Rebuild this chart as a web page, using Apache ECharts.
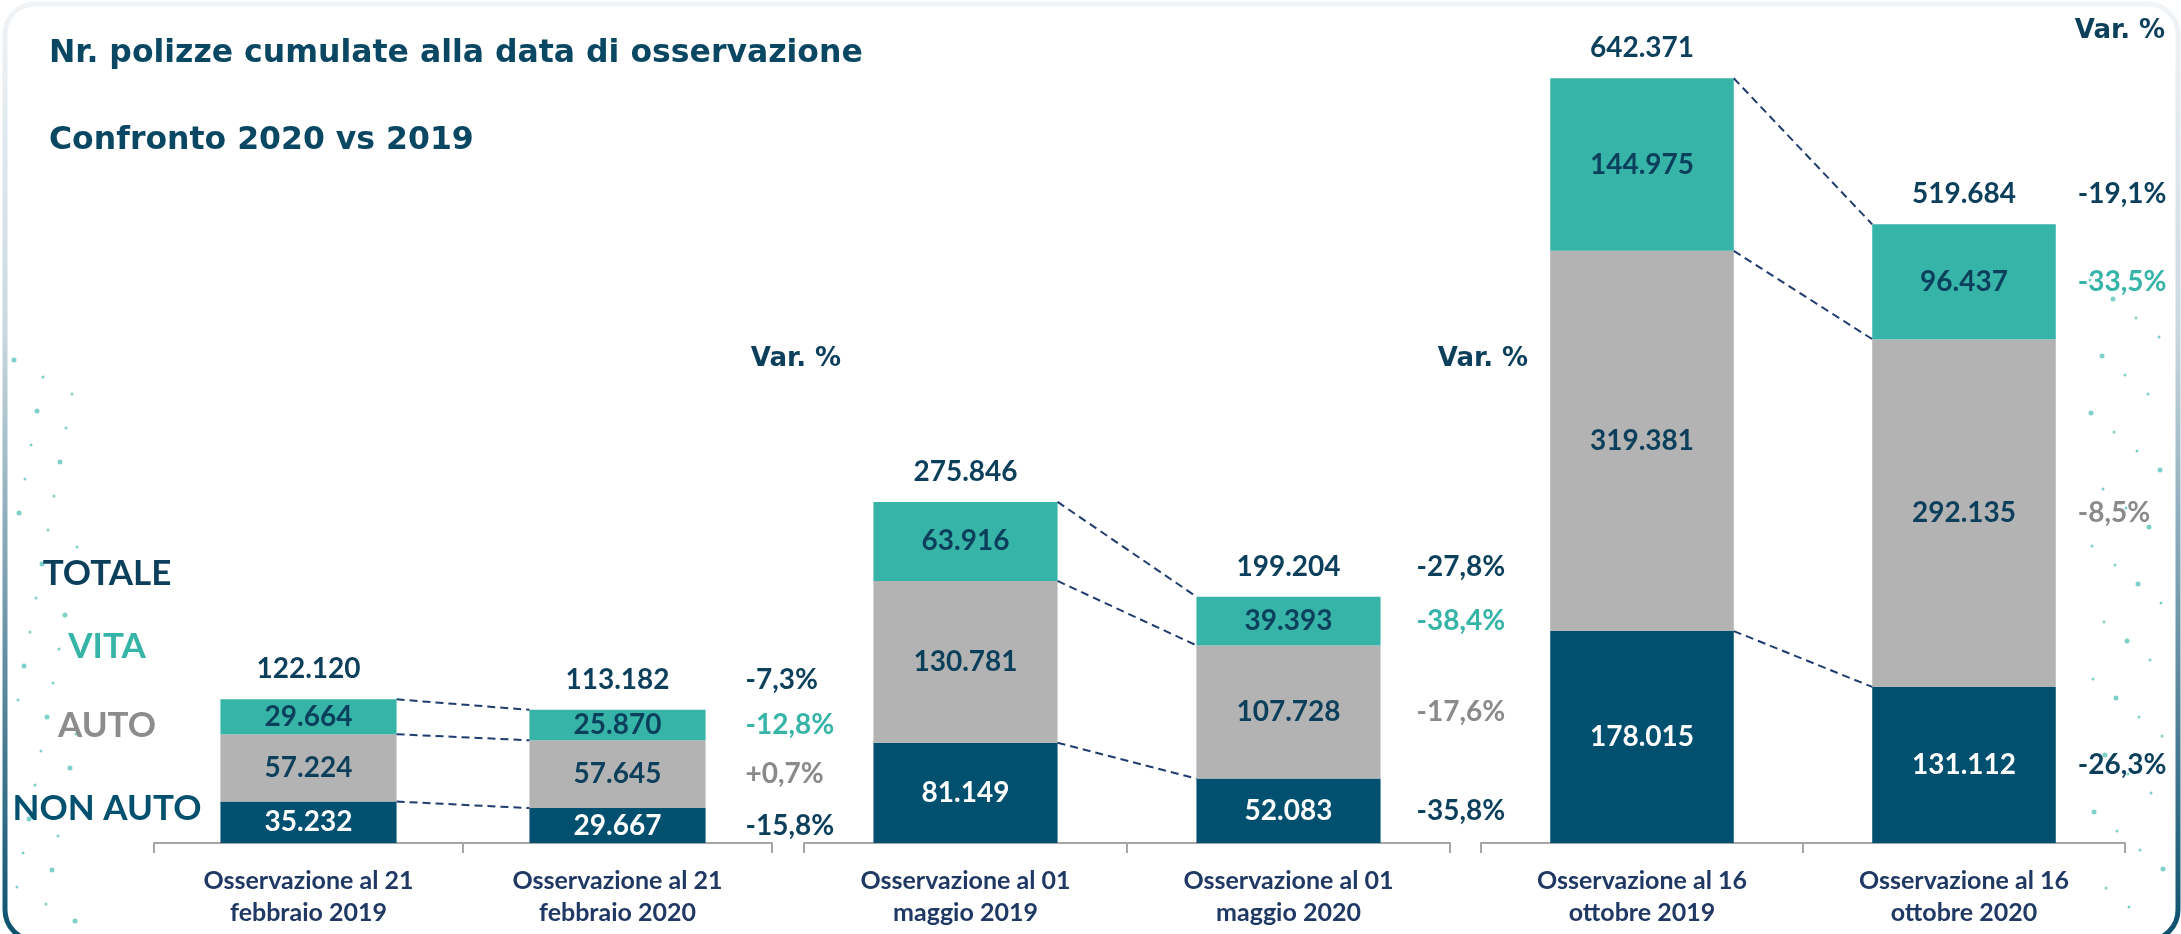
<!DOCTYPE html>
<html>
<head>
<meta charset="utf-8">
<script src="https://cdn.jsdelivr.net/npm/echarts@6/dist/echarts.min.js"></script>
<style>
html,body{margin:0;padding:0;background:#ffffff;}
#chart{width:2181px;height:934px;}
</style>
</head>
<body>
<div id="chart"></div>
<script>
// ---------------- DATA ----------------
const categories = [
  ['Osservazione al 21\nfebbraio 2019', 'Osservazione al 21\nfebbraio 2020'],
  ['Osservazione al 01\nmaggio 2019', 'Osservazione al 01\nmaggio 2020'],
  ['Osservazione al 16\nottobre 2019', 'Osservazione al 16\nottobre 2020']
];
const nonAuto = [[35232, 29667], [81149, 52083], [178015, 131112]];
const auto    = [[57224, 57645], [130781, 107728], [319381, 292135]];
const vita    = [[29664, 25870], [63916, 39393], [144975, 96437]];
const totale  = [[122120, 113182], [275846, 199204], [642371, 519684]];
const varTotale  = ['-7,3%', '-27,8%', '-19,1%'];
const varVita    = ['-12,8%', '-38,4%', '-33,5%'];
const varAuto    = ['+0,7%', '-17,6%', '-8,5%'];
const varNonAuto = ['-15,8%', '-35,8%', '-26,3%'];
const legendLabels = ['TOTALE', 'VITA', 'AUTO', 'NON AUTO'];
const titleText = 'Nr. polizze cumulate alla data di osservazione';
const subtitleText = 'Confronto 2020 vs 2019';
const varHeader = 'Var. %';

// ---------------- STYLE / LAYOUT ----------------
const C_DARK = '#02506f';
const C_GRAY = '#b2b3b2';
const C_TEAL = '#37b4a8';
const C_TEXT = '#0b3f5b';
const C_NAVY = '#1f3864';
const C_VARGRAY = '#8a8a8a';
const FONT = 'Lato, "Open Sans", sans-serif';
const WIDE = '"DejaVu Sans", Lato, sans-serif';
const grids = [
  {left: 154, width: 618, yMax: 680},
  {left: 804, width: 646, yMax: 647},
  {left: 1481, width: 644, yMax: 672}
];
const GRID_TOP = 43, GRID_BOTTOM = 91;
const BAR_FRAC = 0.57;
const varGap = [40, 36, 22];
const varHeaderPos = [[796, 359], [1483, 359], [2120, 31]];

function fmt(v) { return String(v).replace(/\B(?=(\d{3})+(?!\d))/g, '.'); }

const chart = echarts.init(document.getElementById('chart'), null, {renderer: 'canvas'});

const option = {
  backgroundColor: '#ffffff',
  animation: false,
  grid: [], xAxis: [], yAxis: [], series: [], graphic: []
};

grids.forEach((g, gi) => {
  option.grid.push({left: g.left, width: g.width, top: GRID_TOP, bottom: GRID_BOTTOM, containLabel: false});
  option.xAxis.push({
    type: 'category', gridIndex: gi, data: categories[gi],
    axisLine: {show: true, lineStyle: {color: '#a6a6a6', width: 2}},
    axisTick: {show: true, length: 10, lineStyle: {color: '#a6a6a6', width: 2}},
    axisLabel: {color: C_NAVY, fontFamily: FONT, fontWeight: 'bold', fontSize: 25, lineHeight: 32, margin: 22, interval: 0}
  });
  option.yAxis.push({type: 'value', gridIndex: gi, min: 0, max: g.yMax, show: false, splitLine: {show: false}});

  const segs = [
    {name: 'NON AUTO', data: nonAuto[gi], color: C_DARK, label: '#ffffff'},
    {name: 'AUTO', data: auto[gi], color: C_GRAY, label: C_TEXT},
    {name: 'VITA', data: vita[gi], color: C_TEAL, label: C_TEXT}
  ];
  segs.forEach(s => {
    option.series.push({
      type: 'bar', name: s.name, stack: 'g' + gi, xAxisIndex: gi, yAxisIndex: gi,
      barWidth: (BAR_FRAC * 100) + '%',
      data: s.data.map(v => v / 1000),
      itemStyle: {color: s.color},
      label: {show: true, position: 'inside', color: s.label, fontFamily: FONT, fontWeight: 'bold', fontSize: 28,
        formatter: p => fmt(s.data[p.dataIndex])}
    });
  });

  // overlay: dashed connectors, totals, variation labels
  option.series.push({
    type: 'custom', xAxisIndex: gi, yAxisIndex: gi, data: [[0]], clip: false, z: 10,
    renderItem: function (params, api) {
      const bw = api.size([1, 0])[0] * BAR_FRAC;
      const children = [];
      const cum = [0, 1].map(i => [nonAuto[gi][i], nonAuto[gi][i] + auto[gi][i], totale[gi][i]]);
      const x0 = api.coord([0, 0])[0], x1 = api.coord([1, 0])[0];
      for (let k = 0; k < 3; k++) {
        const ya = api.coord([0, cum[0][k] / 1000])[1];
        const yb = api.coord([1, cum[1][k] / 1000])[1];
        children.push({type: 'line', shape: {x1: x0 + bw / 2, y1: ya, x2: x1 - bw / 2, y2: yb},
          style: {stroke: '#1f3c6e', lineWidth: 2, lineDash: [8, 5]}});
      }
      // totals
      const totalY = [];
      for (let i = 0; i < 2; i++) {
        const xc = i === 0 ? x0 : x1;
        const yt = api.coord([i, totale[gi][i] / 1000])[1] - 30;
        totalY.push(yt);
        children.push({type: 'text', style: {text: fmt(totale[gi][i]), x: xc, y: yt,
          font: 'bold 28px ' + FONT, fill: C_TEXT, align: 'center', verticalAlign: 'middle',
          textAlign: 'center', textVerticalAlign: 'middle'}});
      }
      // variation labels
      const vx = x1 + bw / 2 + varGap[gi];
      const b = [0, nonAuto[gi][1], nonAuto[gi][1] + auto[gi][1], totale[gi][1]].map(v => api.coord([1, v / 1000])[1]);
      const vlabels = [
        {t: varTotale[gi], y: totalY[1], c: C_TEXT},
        {t: varVita[gi], y: (b[2] + b[3]) / 2, c: C_TEAL},
        {t: varAuto[gi], y: (b[1] + b[2]) / 2, c: C_VARGRAY},
        {t: varNonAuto[gi], y: (b[0] + b[1]) / 2, c: C_TEXT}
      ];
      vlabels.forEach(v => children.push({type: 'text', style: {text: v.t, x: vx, y: v.y,
        font: 'bold 28px ' + FONT, fill: v.c, align: 'left', verticalAlign: 'middle',
        textAlign: 'left', textVerticalAlign: 'middle'}}));
      return {type: 'group', children: children};
    }
  });
});

// frame
option.graphic.push({
  type: 'rect', z: 0, silent: true,
  shape: {x: 5, y: 4, width: 2173, height: 936, r: 30},
  style: {fill: 'none', lineWidth: 5, stroke: {type: 'linear', x: 0, y: 0, x2: 0, y2: 1,
    colorStops: [{offset: 0, color: '#f1f4f7'}, {offset: 0.35, color: '#c9d8e0'}, {offset: 1, color: '#0a4f6d'}]}}
});
// decorative dots
const dots = [];
for (let i = 0; i < 34; i++) {
  dots.push([14 + ((i * 29) % 64), 360 + i * 17]);
  dots.push([2090 + ((i * 23) % 80), 280 + i * 19]);
}
dots.forEach((d, i) => option.graphic.push({type: 'circle', silent: true, z: 0,
  shape: {cx: d[0], cy: d[1], r: (i % 3 === 0) ? 2.5 : 1.5}, style: {fill: '#5cc6bb', opacity: 0.8}}));

// titles
option.graphic.push({type: 'text', left: 49, top: 38, style: {text: titleText, font: 'bold 31.5px ' + WIDE, fill: '#0a4763'}});
option.graphic.push({type: 'text', left: 49, top: 125, style: {text: subtitleText, font: 'bold 31.5px ' + WIDE, fill: '#0a4763'}});
// legend labels
const legendColors = [C_TEXT, C_TEAL, '#8c8c8c', C_DARK];
const legendY = [574, 647, 726, 809];
legendLabels.forEach((t, i) => option.graphic.push({type: 'text', silent: true,
  style: {text: t, x: 107, y: legendY[i], font: 'bold 35px ' + FONT, fill: legendColors[i],
    align: 'center', verticalAlign: 'middle', textAlign: 'center', textVerticalAlign: 'middle'}}));
// Var % headers
varHeaderPos.forEach(p => option.graphic.push({type: 'text', silent: true,
  style: {text: varHeader, x: p[0], y: p[1], font: 'bold 26px ' + WIDE, fill: C_TEXT,
    align: 'center', verticalAlign: 'middle', textAlign: 'center', textVerticalAlign: 'middle'}}));

chart.setOption(option);
</script>
</body>
</html>
